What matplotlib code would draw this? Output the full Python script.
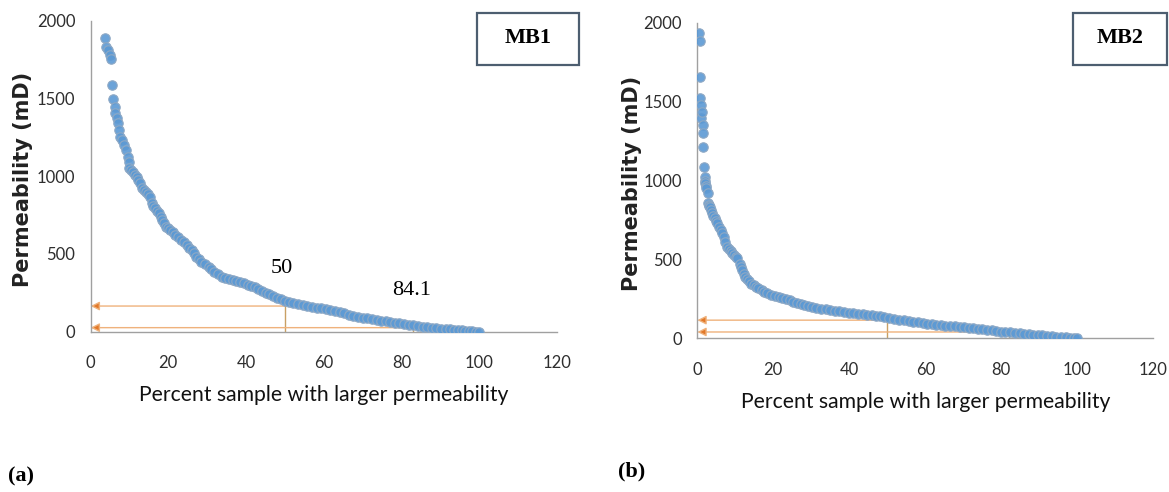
import numpy as np
import matplotlib
matplotlib.use("Agg")
import matplotlib.pyplot as plt
from matplotlib.patches import Rectangle

# MB1: percent of samples with larger permeability vs permeability (mD)
mb1_pct = [3.8, 4.0, 4.6, 4.9, 5.2, 5.4, 5.7, 6.2, 6.4, 6.9, 7.1, 7.3, 7.5, 8.1, 8.5,
           9.2, 9.5, 9.8, 10.0, 10.5, 10.9, 11.4, 11.9, 12.3, 12.8, 13.3, 13.8, 14.2,
           14.7, 15.2, 15.7, 16.1, 16.6, 17.0, 17.5, 18.0, 18.5, 19.0, 19.5, 20.0,
           20.4, 21.1, 21.8, 22.5, 23.2, 24.0, 24.7, 25.4, 26.1, 26.6, 27.1, 27.8,
           28.5, 29.5, 30.4, 31.1, 31.8, 32.7, 33.7, 34.5, 35.5, 36.6, 37.5, 38.5,
           39.4, 40.4, 41.3, 42.3, 43.2, 44.2, 45.1, 46.0, 47.0, 48.0, 49.0, 50.0,
           51.0, 52.2, 53.4, 54.6, 55.8, 57.0, 58.2, 59.3, 60.5, 61.7, 62.9, 64.1,
           65.3, 66.5, 67.6, 68.8, 70.0, 71.2, 72.4, 73.6, 74.8, 76.0, 77.1, 78.3,
           79.5, 80.7, 81.9, 83.1, 84.3, 85.5, 86.6, 87.8, 89.0, 90.2, 91.4, 92.6,
           93.5, 94.5, 95.5, 96.4, 97.3, 98.2, 99.1, 100.0]
mb1_perm = [1887, 1833, 1812, 1779, 1752, 1586, 1496, 1447, 1404, 1372, 1340, 1297, 1254,
            1233, 1200, 1168, 1125, 1093, 1051, 1040, 1029, 1010, 997, 975, 954, 922, 910,
            900, 885, 868, 826, 810, 794, 778, 761, 740, 718, 697, 675, 665, 654, 638,
            622, 606, 590, 574, 558, 541, 525, 503, 482, 466, 450, 434, 418, 402, 386,
            370, 354, 345, 338, 332, 325, 318, 311, 302, 294, 286, 275, 263, 251, 240,
            230, 219, 210, 200, 193, 186, 180, 174, 168, 161, 155, 150, 144, 137, 131,
            125, 118, 110, 103, 96, 91, 86, 80, 75, 71, 66, 62, 58, 54, 49, 45, 41, 37,
            33, 30, 26, 23, 20, 18, 15, 13, 10, 8, 6, 4, 2, 1, 0]

# MB2
mb2_pct = [0.5, 0.6, 0.7, 0.7, 0.9, 1.1, 1.2, 1.4, 1.4, 1.4, 1.7, 1.9, 2.0, 2.1, 2.2,
           2.4, 2.7, 2.9, 3.0, 3.2, 3.4, 3.6, 3.9, 4.2, 4.6, 5.0, 5.3, 5.8, 6.3, 6.6,
           7.0, 7.4, 7.8, 8.3, 8.8, 9.2, 9.6, 10.1, 10.5, 11.2, 11.5, 11.8, 12.2, 12.6,
           13.0, 13.5, 14.1, 14.8, 15.4, 16.1, 16.9, 17.6, 18.4, 19.4, 20.4, 21.4, 22.4,
           23.3, 24.3, 25.3, 26.2, 27.2, 28.2, 29.1, 30.1, 31.3, 32.6, 33.8, 35.0, 36.2,
           37.4, 38.6, 39.8, 41.0, 42.3, 43.5, 44.7, 45.9, 47.1, 48.2, 49.2, 50.5, 51.8,
           53.1, 54.4, 55.6, 56.8, 58.1, 59.3, 60.5, 61.7, 62.9, 64.1, 65.3, 66.5, 67.8,
           69.0, 70.2, 71.4, 72.6, 73.8, 75.0, 76.2, 77.5, 78.7, 79.9, 81.1, 82.3, 83.6,
           84.8, 86.0, 87.2, 88.4, 89.6, 90.8, 92.1, 93.3, 94.5, 95.7, 96.9, 98.1, 99.0,
           99.9]
mb2_perm = [1934, 1882, 1653, 1522, 1479, 1395, 1437, 1352, 1300, 1215, 1088, 1024, 1000,
            982, 965, 950, 919, 855, 845, 838, 834, 815, 792, 778, 760, 745, 728, 707, 686,
            665, 643, 612, 580, 566, 552, 538, 527, 516, 506, 474, 453, 432, 410, 389, 375,
            361, 347, 337, 326, 316, 305, 295, 284, 277, 269, 262, 255, 248, 241, 232, 224,
            216, 210, 205, 199, 193, 188, 183, 178, 174, 170, 167, 163, 160, 156, 153, 150,
            146, 143, 139, 135, 130, 124, 119, 114, 110, 105, 101, 97, 93, 90, 86, 83, 80,
            77, 75, 72, 70, 67, 64, 62, 58, 54, 50, 46, 43, 40, 37, 34, 31, 29, 26, 23, 21,
            18, 16, 13, 11, 8, 6, 4, 2, 0]

# percentile guide lines: (percent, permeability) for P50 and P84.1
mb1_guides = [(50, 165), (83, 26)]
mb2_guides = [(50, 115), (82, 40)]

x_ticks = [0, 20, 40, 60, 80, 100, 120]
y_ticks = [0, 500, 1000, 1500, 2000]

tick_font = 'Lato'
xlabel_txt = 'Percent sample with larger permeability'
ylabel_txt = 'Permeability (mD)'

W, H = 1169, 492
fig = plt.figure(figsize=(W / 100, H / 100), dpi=100)


def px_rect(x0, x1, y0, y1):
    # axes rect from pixel coords (x0 = left, x1 = right, y0 = bottom row, y1 = top row)
    return [x0 / W, 1 - y0 / H, (x1 - x0) / W, (y0 - y1) / H]


def draw_panel(ax, pct, perm, guides, ylab_x):
    ax.scatter(pct, perm, s=46, facecolor=(0.36, 0.60, 0.83, 0.9),
               edgecolor='#8ea8c4', linewidths=0.8, zorder=3)
    for xv, yv in guides:
        ax.plot([xv, xv], [0, yv], color='#c9a064', lw=1, zorder=1)
        ax.annotate('', xy=(0, yv), xytext=(xv, yv), annotation_clip=False,
                    arrowprops=dict(arrowstyle='-|>', ec='#efb27c', fc='#e27828',
                                    lw=1, mutation_scale=13, shrinkA=0, shrinkB=0),
                    zorder=2)
    ax.set_xlim(0, 120)
    ax.set_ylim(0, 2000)
    ax.set_xticks(x_ticks)
    ax.set_yticks(y_ticks)
    for s in ['top', 'right']:
        ax.spines[s].set_visible(False)
    for s in ['left', 'bottom']:
        ax.spines[s].set_color('#a0a0a0')
        ax.spines[s].set_linewidth(1)
    ax.tick_params(axis='both', length=0, labelsize=12, labelcolor='#2e2e2e')
    ax.tick_params(axis='x', pad=17)
    ax.tick_params(axis='y', pad=11)
    for lab in ax.get_xticklabels() + ax.get_yticklabels():
        lab.set_family(tick_font)
    ax.set_xlabel(xlabel_txt, family=tick_font, fontsize=15.2, color='#111111', labelpad=10)
    ax.set_ylabel(ylabel_txt, family='DejaVu Sans', fontweight='bold', fontsize=15,
                  color='#222222')
    ax.yaxis.set_label_coords(ylab_x, 0.49)


ax1 = fig.add_axes(px_rect(90.6, 556.8, 331.7, 20.7))
draw_panel(ax1, mb1_pct, mb1_perm, mb1_guides, -0.124)
ax1.text(49.2, 408, '50', family='Liberation Serif', fontsize=16, ha='center', va='center')
ax1.text(82.6, 264, '84.1', family='Liberation Serif', fontsize=16, ha='center', va='center')

ax2 = fig.add_axes(px_rect(697.3, 1153.3, 338.3, 22.7))
draw_panel(ax2, mb2_pct, mb2_perm, mb2_guides, -0.121)

# title boxes
for (x0, x1, lab) in [(477, 579, 'MB1'), (1073, 1167, 'MB2')]:
    fig.patches.append(Rectangle((x0 / W, 1 - 65 / H), (x1 - x0) / W, 52 / H,
                                 transform=fig.transFigure, fill=False,
                                 ec='#4d5e70', lw=1.6))
    fig.text((x0 + x1) / 2 / W, 1 - 38 / H, lab, family='Liberation Serif',
             fontweight='bold', fontsize=16, ha='center', va='center')

fig.text(21 / W, 1 - 476 / H, '(a)', family='Liberation Serif', fontweight='bold',
         fontsize=16, ha='center', va='center')
fig.text(632 / W, 1 - 471 / H, '(b)', family='Liberation Serif', fontweight='bold',
         fontsize=16, ha='center', va='center')

fig.savefig('out.png', dpi=100)
